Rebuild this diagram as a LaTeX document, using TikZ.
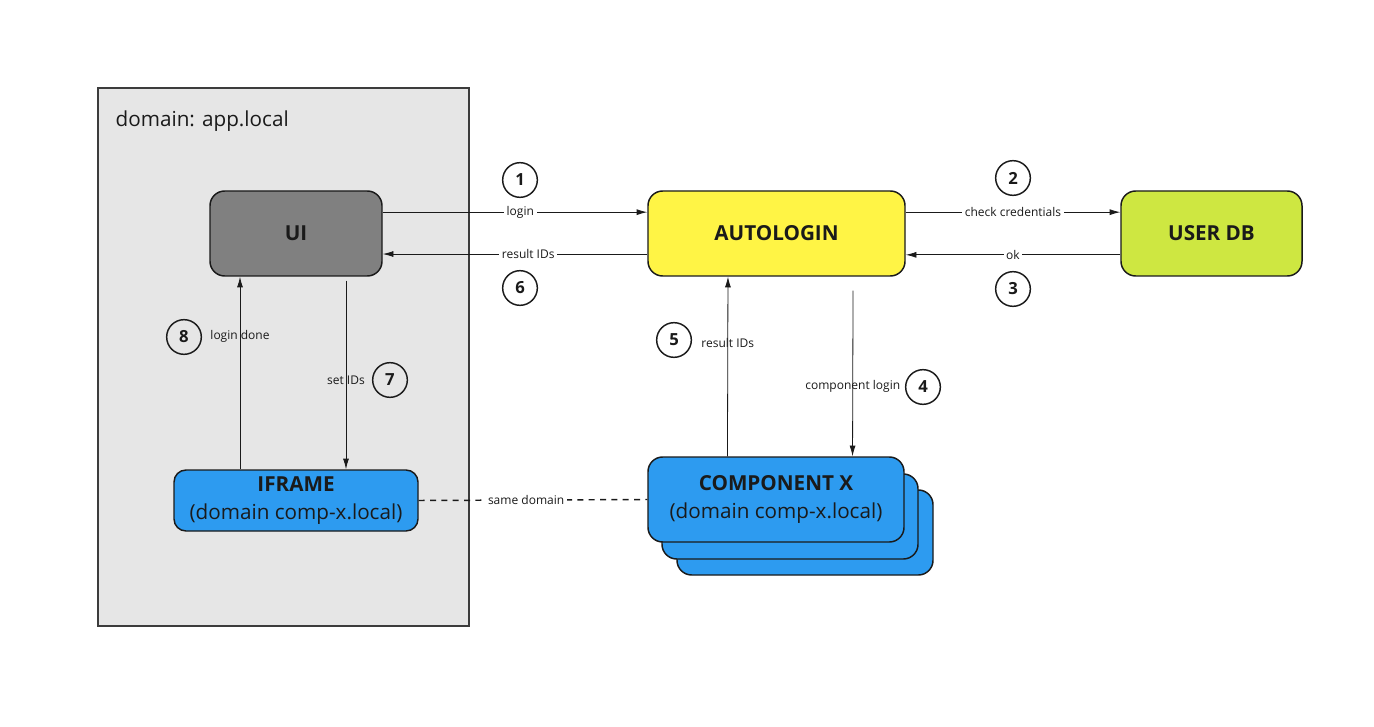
\documentclass[tikz,border=0pt]{standalone}
\usepackage{fontspec}
\setmainfont{Open Sans}
\usetikzlibrary{arrows.meta}

\definecolor{domaingray}{HTML}{E6E6E6}
\definecolor{uigray}{HTML}{808080}
\definecolor{autoyellow}{HTML}{FFF445}
\definecolor{dbgreen}{HTML}{CEE741}
\definecolor{compblue}{HTML}{2D9BF0}
\definecolor{inkdark}{HTML}{1A1A1A}

\tikzset{
  box/.style={draw=inkdark,line width=1.1pt,rounded corners=11pt,text=inkdark,
    font=\fontsize{15.5}{21}\selectfont\bfseries,align=center,
    minimum height=63.75pt},
  num/.style={draw=inkdark,circle,line width=1.1pt,minimum size=26pt,inner sep=0pt,
    font=\fontsize{12.5}{14}\selectfont\bfseries,text=inkdark},
  msg/.style={font=\fontsize{9}{11}\selectfont,text=inkdark,inner sep=2pt},
  arr/.style={-{Latex[length=8pt,width=4.5pt]},draw=inkdark,line width=0.6pt}
}

\begin{document}
\begin{tikzpicture}[x=0.75pt,y=-0.75pt]
\useasboundingbox (0,0) rectangle (1374,727);
\fill[white] (0,0) rectangle (1374,727);

% domain box
\draw[fill=domaingray,draw=inkdark!85,line width=1.1pt] (98,88) rectangle (469,626);
\node[anchor=west,font=\fontsize{15.5}{19}\selectfont,text=inkdark] (DomainLbl) at (111,121){domain: app.local};

% main boxes
\node[box,fill=uigray,minimum width=129pt] (UI) at (296,233.5){UI};
\node[box,fill=autoyellow,minimum width=192.75pt] (Auto) at (776.5,233.5){AUTOLOGIN};
\node[box,fill=dbgreen,minimum width=135.75pt] (DB) at (1211.5,233.5){USER DB};
\node[box,fill=compblue,minimum width=183pt,minimum height=45.75pt,rounded corners=9pt,inner sep=1pt] (Iframe) at (296,500.5){IFRAME\\\mdseries(domain comp-x.local)};

% component stack
\node[box,fill=compblue,minimum width=192pt] (Comp3) at (805,532.5){};
\node[box,fill=compblue,minimum width=192pt] (Comp2) at (790,516.5){};
\node[box,fill=compblue,minimum width=192pt] (Comp) at (776,499.5){COMPONENT X\\\mdseries(domain comp-x.local)};

% step numbers
\node[num] (N1) at (520,180){1};
\node[num] (N2) at (1013,178){2};
\node[num] (N3) at (1013,289){3};
\node[num] (N4) at (923,387){4};
\node[num] (N5) at (674,340){5};
\node[num] (N6) at (520,288){6};
\node[num] (N7) at (390,380){7};
\node[num] (N8) at (184,337){8};

% messages
\draw [arr]([yshift=16pt]UI.east) -- node[msg,fill=white,pos=0.52]{login} ([yshift=16pt]Auto.west);
\draw [arr]([yshift=-15.4pt]Auto.west) -- node[msg,fill=white,pos=0.45]{result IDs} ([yshift=-15.4pt]UI.east);
\draw [arr]([yshift=16pt]Auto.east) -- node[msg,fill=white]{check credentials} ([yshift=16pt]DB.west);
\draw [arr]([yshift=-16pt]DB.west) -- node[msg,fill=white]{ok} ([yshift=-16pt]Auto.east);
\draw [arr]([xshift=57.4pt,yshift=-10.5pt]Auto.south) -- node[msg,pos=0.58]{component login} ([xshift=57.4pt]Comp.north);
\draw [arr]([xshift=-36.4pt]Comp.north) -- node[msg,pos=0.63]{result IDs} ([xshift=-36.4pt]Auto.south);
\draw [arr]([xshift=37.5pt,yshift=-3pt]UI.south) -- node[msg,pos=0.526]{set IDs} ([xshift=37.5pt]Iframe.north);
\draw [arr]([xshift=-42pt]Iframe.north) -- node[msg,pos=0.69]{login done} ([xshift=-42pt]UI.south);
\draw [draw=inkdark,line width=1.1pt,dash pattern=on 4.5pt off 4pt](Iframe.east) -- node[msg,fill=white,pos=0.47]{same domain} (Comp.west);
\end{tikzpicture}
\end{document}
